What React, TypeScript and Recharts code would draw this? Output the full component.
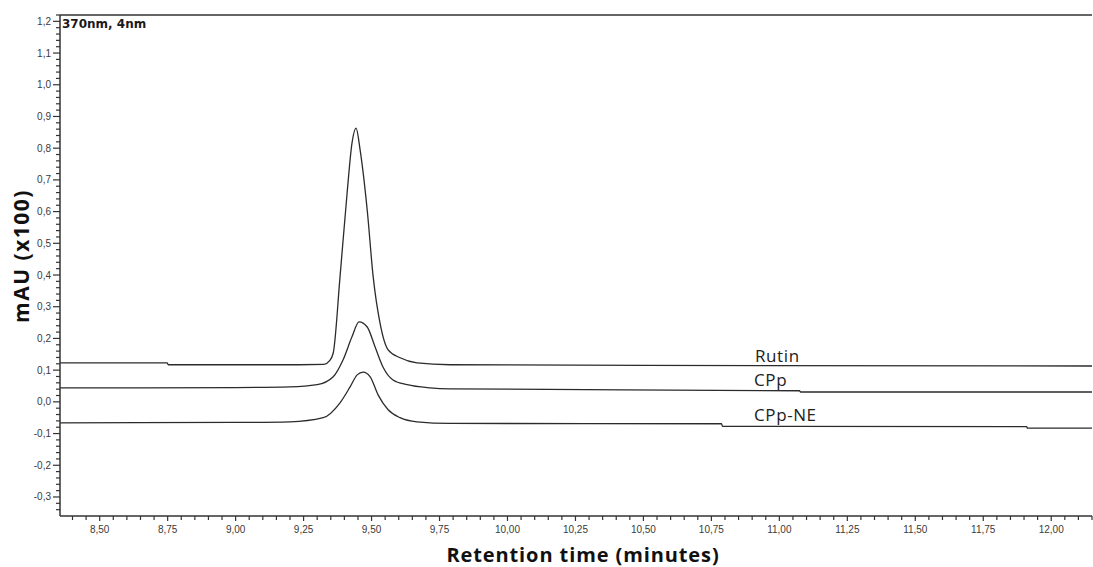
import { LineChart, Line, XAxis, YAxis, ReferenceLine } from 'recharts';

// retention time (min) and absorbance (mAU x100)
const rutinTime = [8.354, 8.748, 8.752, 9.2, 9.325, 9.345, 9.359, 9.384, 9.41, 9.428, 9.443, 9.458, 9.484, 9.506, 9.531, 9.561, 9.605, 9.667, 9.789, 10.5, 12.15];
const rutinAbs = [0.123, 0.123, 0.117, 0.117, 0.118, 0.129, 0.154, 0.394, 0.658, 0.816, 0.863, 0.794, 0.605, 0.394, 0.249, 0.164, 0.139, 0.123, 0.117, 0.115, 0.113];

const cppTime = [8.354, 9.0, 9.2, 9.3, 9.359, 9.395, 9.428, 9.454, 9.484, 9.513, 9.542, 9.579, 9.631, 9.715, 9.789, 11.074, 11.078, 12.15];
const cppAbs = [0.044, 0.045, 0.047, 0.054, 0.079, 0.132, 0.205, 0.252, 0.236, 0.173, 0.11, 0.069, 0.054, 0.044, 0.041, 0.035, 0.031, 0.031];

const cppNeTime = [8.354, 9.0, 9.2, 9.322, 9.384, 9.421, 9.447, 9.469, 9.495, 9.524, 9.561, 9.605, 9.667, 9.789, 10.787, 10.791, 11.909, 11.913, 12.15];
const cppNeAbs = [-0.066, -0.065, -0.063, -0.05, -0.003, 0.047, 0.085, 0.094, 0.079, 0.022, -0.025, -0.05, -0.063, -0.068, -0.069, -0.077, -0.078, -0.083, -0.083];

const xMajorTicks = [8.5, 8.75, 9.0, 9.25, 9.5, 9.75, 10.0, 10.25, 10.5, 10.75, 11.0, 11.25, 11.5, 11.75, 12.0];
const yMajorTicks = [-0.3, -0.2, -0.1, 0.0, 0.1, 0.2, 0.3, 0.4, 0.5, 0.6, 0.7, 0.8, 0.9, 1.0, 1.1, 1.2];

const seriesLabels = ['Rutin', 'CPp', 'CPp-NE'];

const X_DOMAIN: [number, number] = [8.354, 12.15];
const Y_DOMAIN: [number, number] = [-0.36, 1.22];

const xTicks = Array.from({ length: 76 }, (_, i) => +(8.4 + i * 0.05).toFixed(2));
const yTicks = Array.from({ length: 79 }, (_, i) => +(-0.34 + i * 0.02).toFixed(2));

const toPoints = (t: number[], v: number[]) => t.map((time, i) => ({ time, mau: v[i] }));

const isMajor = (list: number[], v: number) => list.some((m) => Math.abs(m - v) < 1e-6);
const fmt = (v: number, d: number) => v.toFixed(d).replace('.', ',');

const AXIS = '#333';
const TRACE = '#2b2b2b';

function XTick({ x, y, payload }: any) {
  const major = isMajor(xMajorTicks, payload.value);
  return (
    <g>
      <line x1={x} x2={x} y1={y} y2={y + (major ? 5 : 4)} stroke={AXIS} strokeWidth={1.2} />
      {major && (
        <text x={x} y={y + 17} textAnchor="middle" fontSize={10} fontFamily="Liberation Sans" fill="#3a3a3a">
          {fmt(payload.value, 2)}
        </text>
      )}
    </g>
  );
}

function YTick({ x, y, payload }: any) {
  const major = isMajor(yMajorTicks, payload.value);
  return (
    <g>
      <line x1={x - (major ? 7 : 4)} x2={x} y1={y} y2={y} stroke={AXIS} strokeWidth={1.2} />
      {major && (
        <text x={x - 9} y={y + 3.5} textAnchor="end" fontSize={10} fontFamily="Liberation Sans" fill="#3a3a3a">
          {fmt(payload.value, 1)}
        </text>
      )}
    </g>
  );
}

export default function App() {
  return (
    <div style={{ position: 'absolute', left: 0, top: 0, width: 1093, height: 567, background: '#fff' }}>
      <LineChart width={1093} height={567} margin={{ top: 15, right: 1, bottom: 0, left: 0 }}>
        <XAxis
          dataKey="time"
          type="number"
          domain={X_DOMAIN}
          allowDataOverflow
          ticks={xTicks}
          interval={0}
          tick={<XTick />}
          tickLine={false}
          tickSize={0}
          tickMargin={0}
          height={51}
          axisLine={{ stroke: AXIS, strokeWidth: 1.5 }}
        />
        <YAxis
          type="number"
          domain={Y_DOMAIN}
          allowDataOverflow
          ticks={yTicks}
          interval={0}
          tick={<YTick />}
          tickLine={false}
          tickSize={0}
          tickMargin={0}
          width={60}
          axisLine={{ stroke: AXIS, strokeWidth: 1.5 }}
        />
        <ReferenceLine y={Y_DOMAIN[1]} stroke={AXIS} strokeWidth={1.5} />
        <Line data={toPoints(rutinTime, rutinAbs)} dataKey="mau" type="monotone" stroke={TRACE} strokeWidth={1.3} dot={false} isAnimationActive={false} />
        <Line data={toPoints(cppTime, cppAbs)} dataKey="mau" type="monotone" stroke={TRACE} strokeWidth={1.3} dot={false} isAnimationActive={false} />
        <Line data={toPoints(cppNeTime, cppNeAbs)} dataKey="mau" type="monotone" stroke={TRACE} strokeWidth={1.3} dot={false} isAnimationActive={false} />
      </LineChart>
      <svg width={1093} height={567} style={{ position: 'absolute', left: 0, top: 0, pointerEvents: 'none' }}>
        <text x={62} y={28} fontSize={12} fontWeight="bold" fontFamily="DejaVu Sans" fill="#1a1a1a">
          370nm, 4nm
        </text>
        <text x={755} y={362} fontSize={17} letterSpacing={0.6} fontFamily="Open Sans" fill="#222">{seriesLabels[0]}</text>
        <text x={754} y={386} fontSize={17} letterSpacing={0.6} fontFamily="Open Sans" fill="#222">{seriesLabels[1]}</text>
        <text x={754} y={421} fontSize={17} letterSpacing={0.6} fontFamily="Open Sans" fill="#222">{seriesLabels[2]}</text>
        <text
          transform="translate(29,256) rotate(-90)"
          textAnchor="middle"
          fontSize={21}
          letterSpacing={1.5}
          fontWeight="bold"
          fontFamily="Open Sans"
          fill="#111"
        >
          mAU (x100)
        </text>
        <text x={583} y={562} textAnchor="middle" fontSize={20} letterSpacing={0.9} fontWeight="bold" fontFamily="Open Sans" fill="#111">
          Retention time (minutes)
        </text>
      </svg>
    </div>
  );
}
